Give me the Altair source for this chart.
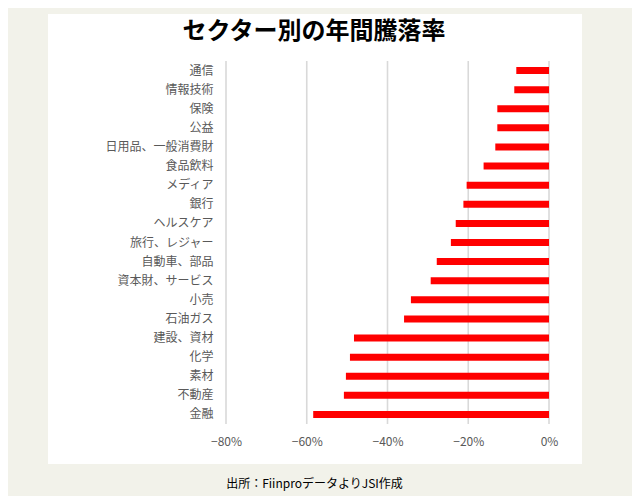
import altair as alt
import pandas as pd

categories = ["通信", "情報技術", "保険", "公益", "日用品、一般消費財", "食品飲料", "メディア",
              "銀行", "ヘルスケア", "旅行、レジャー", "自動車、部品", "資本財、サービス", "小売",
              "石油ガス", "建設、資材", "化学", "素材", "不動産", "金融"]
values = [-8.1, -8.6, -12.8, -12.8, -13.3, -16.2, -20.4, -21.2, -23.1, -24.3, -27.8,
          -29.3, -34.2, -35.9, -48.3, -49.3, -50.3, -50.8, -58.4]
tick_values = [-0.8, -0.6, -0.4, -0.2, 0.0]

title_text = "セクター別の年間騰落率"
source_text = "出所：FiinproデータよりJSI作成"

FONT = "Noto Sans CJK JP"
W, H = 323, 363

df = pd.DataFrame({"sector": categories, "value": [v / 100 for v in values]})
grid_df = pd.DataFrame({"t": tick_values})
panel_df = pd.DataFrame({"a": [0]})
title_df = pd.DataFrame({"label": [title_text]})

xscale = alt.Scale(domain=[-0.8, 0], nice=False)

panel = alt.Chart(panel_df).mark_rect(color="white").encode(
    x=alt.value(-178), x2=alt.value(356), y=alt.value(-47), y2=alt.value(403)
)

title = alt.Chart(title_df).mark_text(
    font=FONT, fontSize=24, fontWeight="bold", color="#000000", align="center", baseline="middle"
).encode(text="label:N", x=alt.value(88), y=alt.value(-29))

grid = alt.Chart(grid_df).mark_rule(color="#d9d9d9", strokeWidth=1.6).encode(
    x=alt.X("t:Q", scale=xscale),
    y=alt.value(0), y2=alt.value(H)
)

bars = alt.Chart(df).mark_bar(color="#ff0000", size=7).encode(
    x=alt.X("value:Q", scale=xscale,
            axis=alt.Axis(values=tick_values, format=".0%", grid=False, domain=False, ticks=False,
                          labelFlush=False, labelOverlap=False,
                          labelColor="#595959", labelFontSize=12, labelFont=FONT, labelPadding=12,
                          title=source_text, titleFont=FONT, titleFontSize=12, titleColor="#000000",
                          titleFontWeight="normal", titleX=88, titlePadding=31, zindex=1)),
    y=alt.Y("sector:N", sort=None,
            axis=alt.Axis(title=None, domain=False, ticks=False, grid=False, labelColor="#595959",
                          labelFontSize=12, labelFont=FONT, labelPadding=13, zindex=1))
)

chart = alt.layer(panel, title, grid, bars).properties(
    width=W, height=H,
    autosize=alt.AutoSizeParams(type="none"),
    padding={"left": 218, "top": 53, "right": 83, "bottom": 72},
    background="#f2f2ea"
).configure_view(strokeWidth=0)

chart.save("out.html", embed_options={"renderer": "svg", "actions": False})
